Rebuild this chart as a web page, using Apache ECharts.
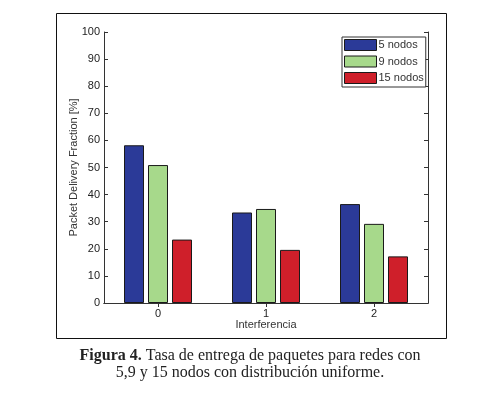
<!DOCTYPE html>
<html>
<head>
<meta charset="utf-8">
<script src="https://cdn.jsdelivr.net/npm/echarts@6/dist/echarts.min.js"></script>
<style>
  html, body { margin: 0; padding: 0; background: #fff; }
  #chart { width: 500px; height: 398px; }
</style>
</head>
<body>
<div id="chart"></div>
<script>
var categories = ['0', '1', '2'];
var seriesNames = ['5 nodos', '9 nodos', '15 nodos'];
var nodos5 = [58.2, 33.4, 36.5];
var nodos9 = [50.9, 34.7, 29.2];
var nodos15 = [23.4, 19.6, 17.2];
var yTicks = [0, 10, 20, 30, 40, 50, 60, 70, 80, 90, 100];

var colors = ['#2b3a98', '#a7d98b', '#cf1f2a'];
var axisFont = '"Liberation Sans", Arial, sans-serif';
var chart = echarts.init(document.getElementById('chart'));

function barSeries(name, data, idx) {
    return {
        name: name,
        type: 'bar',
        data: data,
        barWidth: 20,
        barGap: '20%',
        itemStyle: { color: colors[idx], borderColor: '#1a1a1a', borderWidth: 1 }
    };
}

var option = {
    animation: false,
    textStyle: { fontFamily: axisFont },
    grid: { left: 104, right: 72, top: 32, bottom: 95 },
    legend: {
        orient: 'vertical',
        left: 342,
        top: 37,
        data: seriesNames,
        icon: 'rect',
        itemWidth: 32,
        itemHeight: 11,
        itemGap: 4.5,
        padding: [2, 2, 3, 2],
        borderColor: '#333',
        borderWidth: 1,
        backgroundColor: '#fff',
        textStyle: { fontSize: 11, color: '#333', fontFamily: axisFont, padding: [0, 0, 0, -3] },
        itemStyle: { borderColor: '#1a1a1a', borderWidth: 1 }
    },
    graphic: [{
        type: 'rect',
        shape: { x: 56.5, y: 13.5, width: 390, height: 325 },
        style: { fill: 'none', stroke: '#111', lineWidth: 1 },
        silent: true
    }, {
        type: 'text',
        left: 'center',
        top: 348,
        style: {
            rich: {
                b: { fontFamily: 'Liberation Serif, serif', fontSize: 16, fontWeight: 'bold', fill: '#222' },
                r: { fontFamily: 'Liberation Serif, serif', fontSize: 16, fill: '#222' }
            },
            text: '{b|Figura 4.}{r| Tasa de entrega de paquetes para redes con}',
            fill: '#222'
        }
    }, {
        type: 'text',
        left: 'center',
        top: 365,
        style: {
            text: '5,9 y 15 nodos con distribución uniforme.',
            font: '16px "Liberation Serif", serif',
            fill: '#222'
        }
    }],
    xAxis: [{
        type: 'category',
        data: categories,
        name: 'Interferencia',
        nameLocation: 'middle',
        nameGap: 16,
        nameMoveOverlap: false,
        nameTextStyle: { fontSize: 11, color: '#333', fontFamily: axisFont },
        axisLine: { lineStyle: { color: '#333', width: 1 } },
        axisTick: { show: false },
        axisLabel: { fontSize: 11, color: '#222', margin: 5, fontFamily: axisFont }
    }, {
        type: 'category',
        data: categories,
        position: 'top',
        axisLine: { lineStyle: { color: '#333', width: 1 } },
        axisTick: { show: true, inside: true, alignWithLabel: true, length: 4, lineStyle: { color: '#333' } },
        axisLabel: { show: false }
    }],
    yAxis: [{
        type: 'value',
        min: yTicks[0],
        max: yTicks[yTicks.length - 1],
        interval: 10,
        name: 'Packet Delivery Fraction [%]',
        nameLocation: 'middle',
        nameGap: 25,
        nameMoveOverlap: false,
        nameTextStyle: { fontSize: 11, color: '#333', fontFamily: axisFont },
        axisLine: { show: true, lineStyle: { color: '#333', width: 1 } },
        axisTick: { show: true, inside: true, length: 4, lineStyle: { color: '#333' } },
        axisLabel: { fontSize: 11, color: '#222', margin: 4, fontFamily: axisFont },
        splitLine: { show: false }
    }, {
        type: 'value',
        min: yTicks[0],
        max: yTicks[yTicks.length - 1],
        interval: 10,
        position: 'right',
        axisLine: { show: true, lineStyle: { color: '#333', width: 1 } },
        axisTick: { show: true, inside: true, length: 4, lineStyle: { color: '#333' } },
        axisLabel: { show: false },
        splitLine: { show: false }
    }],
    series: [
        barSeries(seriesNames[0], nodos5, 0),
        barSeries(seriesNames[1], nodos9, 1),
        barSeries(seriesNames[2], nodos15, 2)
    ]
};

chart.setOption(option);
</script>
</body>
</html>
